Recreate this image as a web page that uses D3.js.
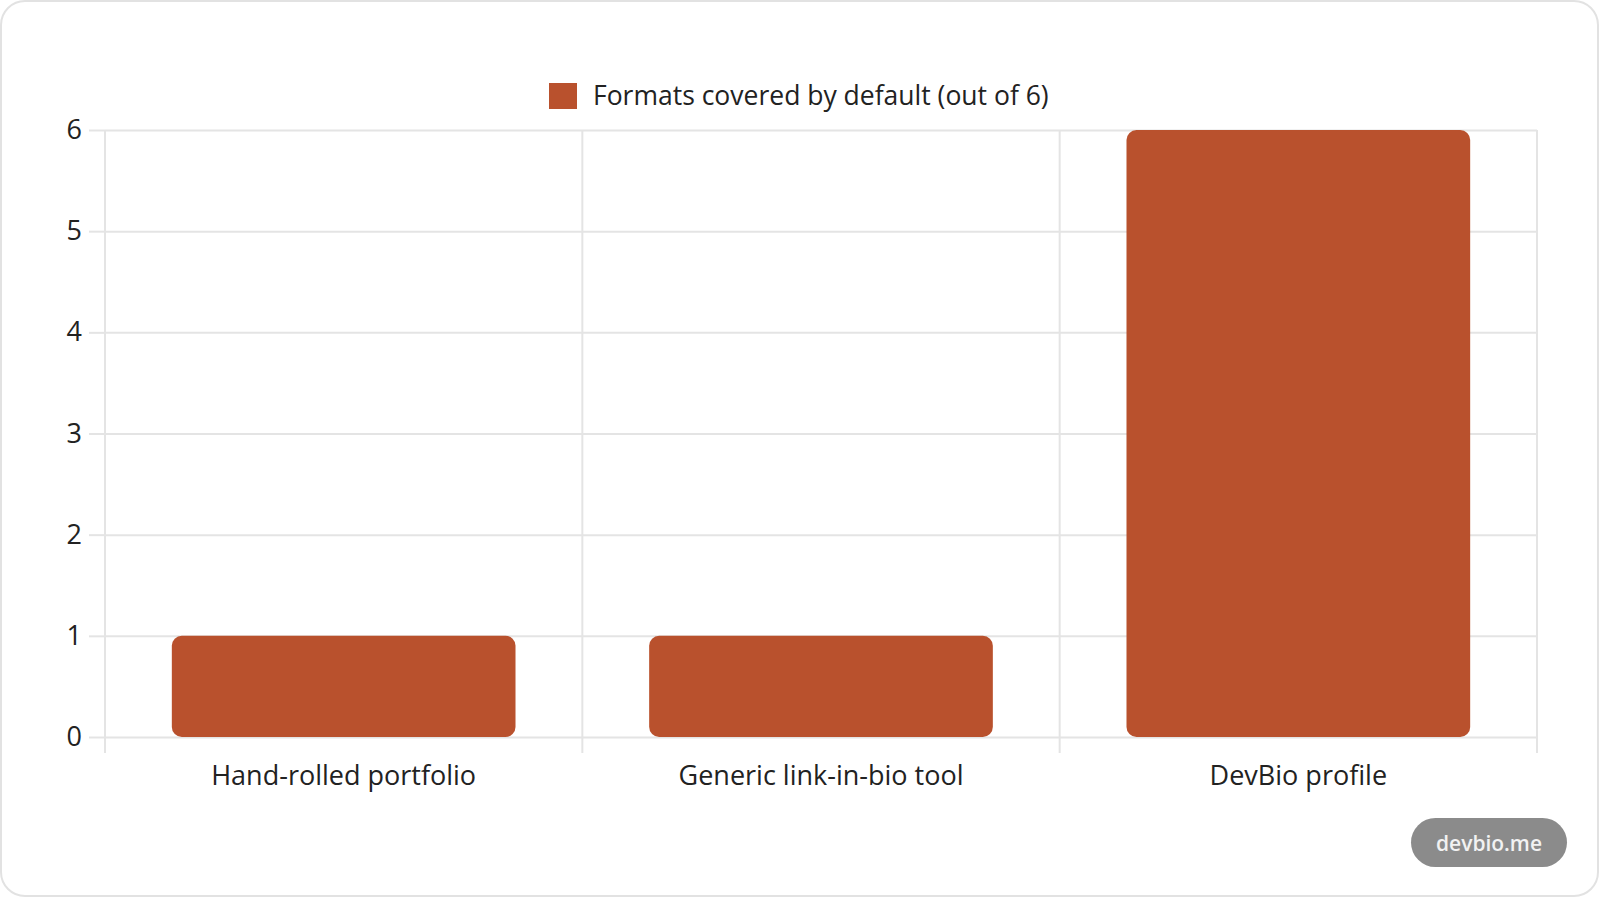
<!DOCTYPE html>
<html>
<head>
<meta charset="utf-8">
<script src="https://cdn.jsdelivr.net/npm/d3@7"></script>
<style>
    body { margin: 0; background: #fff; }
    svg { display: block; font-family: 'Open Sans', 'Noto Sans', sans-serif; }
</style>
</head>
<body>
<svg></svg>
<script>
const CATEGORIES = ['Hand-rolled portfolio', 'Generic link-in-bio tool', 'DevBio profile'];
const VALUES = [1, 1, 6];
const Y_TICKS = [0, 1, 2, 3, 4, 5, 6];
const SERIES_NAME = 'Formats covered by default (out of 6)';
const BADGE_TEXT = 'devbio.me';

const WIDTH = 1600;
const HEIGHT = 898;
const PLOT = {left: 105, right: 1537, top: 130, bottom: 737};
const BAR_COLOR = '#b9512d';
const GRID_COLOR = '#e4e4e4';
const TEXT_COLOR = '#222';

const data = CATEGORIES.map((c, i) => ({category: c, value: VALUES[i]}));

const x = d3.scaleBand().domain(CATEGORIES).range([PLOT.left, PLOT.right]);
const y = d3.scaleLinear().domain([0, d3.max(Y_TICKS)]).range([PLOT.bottom, PLOT.top]);

const svg = d3.select('svg')
    .attr('width', WIDTH)
    .attr('height', HEIGHT);

//card behind everything
svg.append('rect')
    .attr('x', 1).attr('y', 1)
    .attr('width', WIDTH - 3).attr('height', HEIGHT - 3)
    .attr('rx', 24)
    .attr('fill', '#fff')
    .attr('stroke', '#e2e2e2')
    .attr('stroke-width', 2);

//horizontal grid + y labels
const yAxis = svg.append('g')
    .attr('transform', `translate(${PLOT.left},0)`)
    .call(d3.axisLeft(y).tickValues(Y_TICKS).tickSize(16).tickPadding(7).tickFormat(d3.format('d')))
    .attr('font-family', null);//let the svg font win over d3's sans-serif
yAxis.select('.domain').remove();
yAxis.selectAll('.tick line').attr('stroke', GRID_COLOR).attr('stroke-width', 2);
yAxis.selectAll('.tick').append('line')
    .attr('x1', 0).attr('x2', PLOT.right - PLOT.left)
    .attr('stroke', GRID_COLOR).attr('stroke-width', 2);
yAxis.selectAll('text')
    .attr('fill', TEXT_COLOR)
    .style('font-size', '27px');

//vertical grid at category edges, running a bit under the plot
const edges = CATEGORIES.map(c => x(c)).concat([x.range()[1]]);
svg.append('g').selectAll('line')
    .data(edges)
    .enter()
    .append('line')
    .attr('x1', d => d).attr('x2', d => d)
    .attr('y1', PLOT.top).attr('y2', PLOT.bottom + 16)
    .attr('stroke', GRID_COLOR)
    .attr('stroke-width', 2);

//x labels, no ticks drawn by the axis itself
const xAxis = svg.append('g')
    .attr('transform', `translate(0,${PLOT.bottom})`)
    .call(d3.axisBottom(x).tickSize(0).tickPadding(29))
    .attr('font-family', null);
xAxis.select('.domain').remove();
xAxis.selectAll('text')
    .attr('fill', TEXT_COLOR)
    .style('font-size', '27px');

//bars: 0.9 * 0.8 of each category, like the original
const barW = x.bandwidth() * 0.72;
svg.append('g').selectAll('.bar')
    .data(data)
    .enter()
    .append('rect')
    .classed('bar', true)
    .attr('x', d => x(d.category) + (x.bandwidth() - barW) / 2)
    .attr('y', d => y(d.value))
    .attr('width', barW)
    .attr('height', d => y(0) - y(d.value))
    .attr('rx', 10)
    .attr('fill', BAR_COLOR);

//legend
const legend = svg.append('g').attr('transform', 'translate(549,83)');
legend.append('rect')
    .attr('width', 28).attr('height', 26)
    .attr('fill', BAR_COLOR);
legend.append('text')
    .attr('x', 44).attr('y', 22)
    .attr('fill', TEXT_COLOR)
    .style('font-size', '26.5px')
    .text(SERIES_NAME);

//watermark badge
const badge = svg.append('g').attr('transform', 'translate(1411,818)');
badge.append('rect')
    .attr('width', 156).attr('height', 49)
    .attr('rx', 24.5)
    .attr('fill', '#8b8b8b');
badge.append('text')
    .attr('x', 78).attr('y', 33)
    .attr('text-anchor', 'middle')
    .attr('fill', '#f2f2f2')
    .style('font-size', '21px')
    .style('font-weight', 600)
    .text(BADGE_TEXT);
</script>
</body>
</html>
